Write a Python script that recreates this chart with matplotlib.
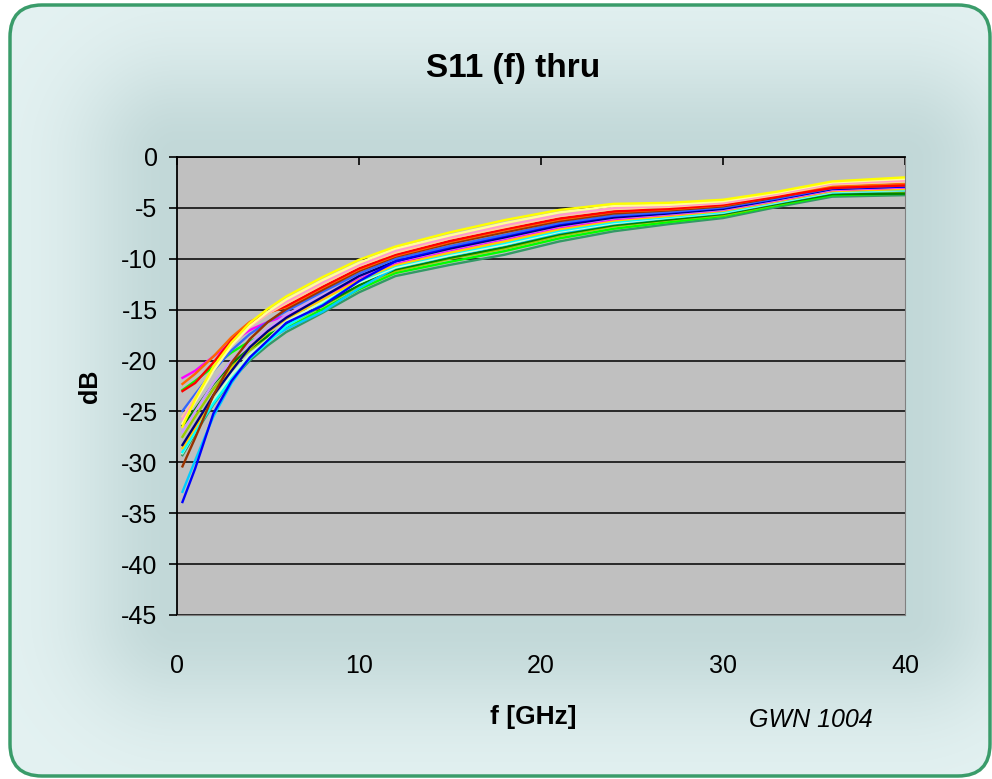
import matplotlib
matplotlib.use("Agg")
import matplotlib.pyplot as plt
import numpy as np
from matplotlib.patches import FancyBboxPatch

plt.rcParams['font.family'] = ['Liberation Sans', 'DejaVu Sans']

# frequency points (GHz)
freq = [0.3, 1, 2, 3, 4, 5, 6, 8, 10, 12, 15, 18, 21, 24, 27, 30, 33, 36, 40]

# S11 in dB, one list per measured thru
yellow = [-26.5, -23.8, -20.6, -18.2, -16.3, -14.9, -13.7, -11.8, -10.1, -8.8, -7.4, -6.2, -5.2, -4.6, -4.5, -4.2, -3.4, -2.4, -2.0]
light_yellow = [-26.2, -24.0, -21.0, -18.5, -16.6, -15.2, -14.0, -12.1, -10.4, -9.0, -7.7, -6.5, -5.45, -4.8, -4.7, -4.35, -3.5, -2.5, -2.15]
pink = [-25.8, -23.8, -20.8, -18.5, -16.7, -15.3, -14.2, -12.3, -10.6, -9.2, -7.9, -6.7, -5.7, -5.0, -4.8, -4.5, -3.6, -2.6, -2.3]
tan = [-25.5, -23.6, -20.8, -18.5, -16.7, -15.4, -14.4, -12.5, -10.7, -9.4, -8.0, -6.9, -5.8, -5.1, -4.9, -4.55, -3.7, -2.7, -2.4]
red = [-23.0, -22.2, -20.2, -18.0, -16.4, -15.3, -14.65, -12.75, -10.95, -9.6, -8.25, -7.1, -6.05, -5.35, -5.1, -4.7, -3.9, -3.05, -2.8]
orange = [-22.3, -21.3, -19.6, -17.7, -16.2, -15.3, -14.75, -12.85, -11.05, -9.7, -8.35, -7.2, -6.15, -5.4, -5.15, -4.75, -3.85, -2.9, -2.65]
brown = [-30.4, -27.6, -23.4, -20.2, -17.9, -16.2, -14.95, -13.05, -11.2, -9.8, -8.5, -7.4, -6.3, -5.55, -5.25, -4.85, -3.95, -2.95, -2.7]
cornflower = [-24.95, -23.3, -21.0, -19.0, -17.4, -16.2, -15.15, -13.25, -11.45, -10.0, -8.75, -7.65, -6.5, -5.75, -5.4, -4.95, -4.05, -3.05, -2.8]
blue = [-33.9, -30.6, -25.2, -22.0, -19.7, -18.0, -16.3, -14.6, -12.2, -10.25, -8.85, -7.75, -6.6, -5.8, -5.45, -5.0, -4.1, -3.1, -2.9]
navy = [-28.3, -26.3, -23.4, -21.0, -18.7, -17.1, -15.8, -13.75, -11.7, -10.25, -9.0, -7.9, -6.75, -5.95, -5.55, -5.1, -4.15, -3.15, -2.9]
lavender = [-27.0, -25.0, -22.2, -20.0, -18.3, -16.9, -15.5, -13.6, -11.75, -10.3, -9.05, -7.95, -6.8, -6.0, -5.6, -5.15, -4.2, -3.2, -2.95]
magenta = [-21.7, -21.0, -19.6, -18.2, -17.0, -16.2, -15.6, -13.75, -11.85, -10.4, -9.15, -8.05, -6.9, -6.1, -5.65, -5.2, -4.25, -3.25, -3.0]
gold = [-28.6, -26.6, -23.4, -20.8, -18.8, -17.2, -15.9, -14.0, -12.1, -10.6, -9.4, -8.3, -7.1, -6.25, -5.8, -5.3, -4.35, -3.35, -3.15]
cyan = [-29.0, -27.0, -24.2, -21.8, -19.8, -18.2, -16.6, -14.5, -12.2, -10.7, -9.5, -8.45, -7.25, -6.4, -5.9, -5.4, -4.4, -3.4, -3.2]
aquamarine = [-29.1, -27.0, -24.0, -21.4, -19.4, -17.9, -16.15, -14.25, -12.35, -10.85, -9.65, -8.6, -7.35, -6.5, -5.95, -5.45, -4.45, -3.45, -3.25]
light_blue = [-32.9, -29.8, -25.5, -22.2, -19.7, -18.0, -16.9, -15.2, -12.9, -10.9, -9.7, -8.65, -7.45, -6.55, -6.0, -5.5, -4.5, -3.5, -3.3]
dark_green = [-26.4, -24.8, -22.3, -20.3, -18.8, -17.6, -16.45, -14.55, -12.6, -11.05, -9.9, -8.85, -7.6, -6.7, -6.15, -5.6, -4.6, -3.65, -3.6]
yellow_green = [-27.5, -25.5, -22.8, -20.6, -19.0, -17.8, -16.55, -14.65, -12.7, -11.2, -10.0, -9.0, -7.75, -6.8, -6.2, -5.7, -4.65, -3.6, -3.45]
green = [-22.9, -22.0, -20.6, -19.2, -18.1, -17.4, -16.85, -14.95, -13.0, -11.4, -10.3, -9.25, -8.0, -7.05, -6.4, -5.8, -4.75, -3.75, -3.6]
sea_green = [-29.3, -27.2, -24.3, -21.9, -20.0, -18.5, -17.2, -15.3, -13.3, -11.7, -10.6, -9.6, -8.3, -7.3, -6.6, -6.0, -4.9, -3.9, -3.75]

curves = [
    (sea_green, "#339966"), (green, "#00FF00"), (yellow_green, "#99CC00"),
    (dark_green, "#008000"), (light_blue, "#00CCFF"), (aquamarine, "#CCFFCC"),
    (cyan, "#00FFFF"), (gold, "#FFCC00"), (magenta, "#FF00FF"),
    (lavender, "#CC99FF"), (navy, "#000080"), (blue, "#0000FF"),
    (cornflower, "#3366FF"), (brown, "#993300"), (orange, "#FF6600"),
    (red, "#FF0000"), (tan, "#FFCC99"), (pink, "#FF99CC"),
    (light_yellow, "#FFFF99"), (yellow, "#FFFF00"),
]

yticks = [0, -5, -10, -15, -20, -25, -30, -35, -40, -45]
xticks = [0, 10, 20, 30, 40]

W, H = 992, 779
fig = plt.figure(figsize=(W / 100, H / 100), dpi=100)

# background panel with soft glow around the plot area
bg = fig.add_axes([0, 0, 1, 1])
bg.set_xlim(0, W)
bg.set_ylim(H, 0)
bg.axis("off")
px0, px1, py0, py1 = 177, 905, 157, 615
yy, xx = np.mgrid[0:H, 0:W]
dx = np.maximum(np.maximum(px0 - xx, xx - px1), 0)
dy = np.maximum(np.maximum(py0 - yy, yy - py1), 0)
dist = np.hypot(dx, dy)
shade = np.exp(-(dist / 100.0) ** 2)
light = np.array([0.894, 0.949, 0.949])
dark = np.array([0.76, 0.848, 0.848])
img = light + (dark - light) * shade[..., None]
panel = FancyBboxPatch((10, 5), 980, 771, boxstyle="round,pad=0,rounding_size=32",
                       facecolor="none", edgecolor="#3A9C6A", linewidth=2.5, zorder=3)
bg.add_patch(panel)
im = bg.imshow(img, extent=(0, W, H, 0), zorder=1)
im.set_clip_path(panel)

ax = fig.add_axes([px0 / W, 1 - py1 / H, (px1 - px0) / W, (py1 - py0) / H])
ax.set_facecolor("#C0C0C0")
for vals, col in curves:
    ax.plot(freq, vals, color=col, linewidth=1.7, solid_joinstyle="miter")

ax.set_xlim(0, 40)
ax.set_ylim(-45, 0)
ax.set_yticks(yticks)
ax.set_yticklabels([str(v) for v in yticks])
ax.set_xticks(xticks)
ax.set_xticklabels([str(v) for v in xticks])
ax.yaxis.grid(True, color="#000000", linewidth=1.1)
ax.set_axisbelow(True)

ax.tick_params(axis="y", direction="out", length=6, width=1.2, labelsize=18, pad=8, colors="black")
ax.tick_params(axis="x", bottom=False, top=True, direction="in", length=6, width=1.2,
               labelbottom=True, labeltop=False, labelsize=18, pad=28)
ax.spines["left"].set_color("black")
ax.spines["left"].set_linewidth(1.3)
ax.spines["top"].set_color("black")
ax.spines["top"].set_linewidth(1.3)
ax.spines["right"].set_color("#808080")
ax.spines["bottom"].set_color("#808080")

ax.set_ylabel("dB", fontsize=18, fontweight="bold", labelpad=14)
fig.text(533 / W, 1 - 717 / H, "f [GHz]", fontsize=19, fontweight="bold", ha="center", va="center")
fig.text(811 / W, 1 - 720 / H, "GWN 1004", fontsize=18, fontstyle="italic", ha="center", va="center")
fig.text(513 / W, 1 - 68 / H, "S11 (f) thru", fontsize=24, fontweight="bold", ha="center", va="center")

fig.savefig("out.png", dpi=100)
